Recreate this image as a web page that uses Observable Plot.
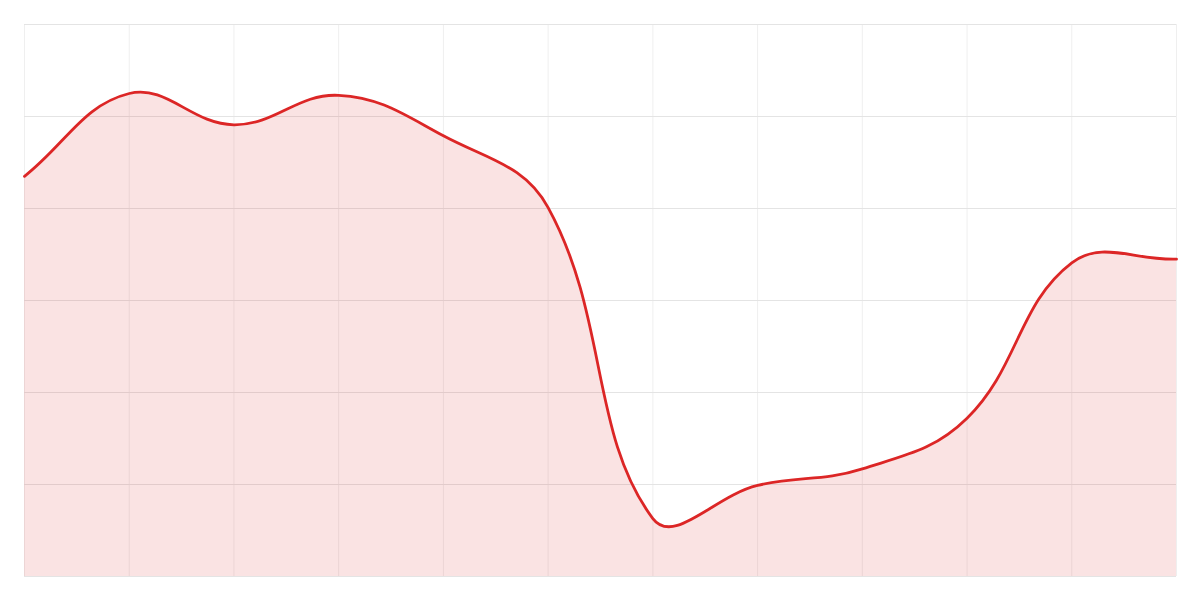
<!DOCTYPE html>
<html>
<head>
<meta charset="utf-8">
<script src="https://cdn.jsdelivr.net/npm/d3@7"></script>
<script src="https://cdn.jsdelivr.net/npm/@observablehq/plot@0.6"></script>
<style>
  html, body { margin: 0; padding: 0; background: #fff; }
  #chart { width: 1200px; height: 600px; }
</style>
</head>
<body>
<div id="chart"></div>
<script>
const positions = [0, 1, 2, 3, 4, 5, 6, 7, 8, 9, 10, 11];
const values = [43.5, 52.5, 49.1, 52.3, 47.9, 40.1, 6.3, 9.9, 11.7, 17.2, 34.1, 34.5];
const yTicks = [0, 10, 20, 30, 40, 50, 60];

const data = positions.map((x, i) => ({x, y: values[i]}));

// Distance-weighted spline (tension 0.4), passed to Plot as a d3-style curve factory
function splineCurve(tension) {
  return function(context) {
    let pts = [], line = NaN;
    return {
      areaStart() { line = 0; },
      areaEnd() { line = NaN; },
      lineStart() { pts = []; },
      lineEnd() {
        const n = pts.length;
        if (n) {
          if (line) context.lineTo(pts[0][0], pts[0][1]);
          else context.moveTo(pts[0][0], pts[0][1]);
          const cps = pts.map((p, i) => {
            const prev = pts[Math.max(0, i - 1)], next = pts[Math.min(n - 1, i + 1)];
            const d01 = Math.hypot(p[0] - prev[0], p[1] - prev[1]);
            const d12 = Math.hypot(next[0] - p[0], next[1] - p[1]);
            let s01 = d01 / (d01 + d12), s12 = d12 / (d01 + d12);
            if (!isFinite(s01)) s01 = 0;
            if (!isFinite(s12)) s12 = 0;
            const fa = tension * s01, fb = tension * s12;
            return {
              px: p[0] - fa * (next[0] - prev[0]), py: p[1] - fa * (next[1] - prev[1]),
              nx: p[0] + fb * (next[0] - prev[0]), ny: p[1] + fb * (next[1] - prev[1])
            };
          });
          for (let i = 1; i < n; i++) {
            context.bezierCurveTo(cps[i - 1].nx, cps[i - 1].ny, cps[i].px, cps[i].py, pts[i][0], pts[i][1]);
          }
        }
        if (line || (line !== 0 && n === 1)) context.closePath();
        line = 1 - line;
      },
      point(x, y) { pts.push([+x, +y]); }
    };
  };
}
const curve = splineCurve(0.4);

const chart = Plot.plot({
  width: 1200,
  height: 600,
  marginTop: 24,
  marginBottom: 24,
  marginLeft: 24,
  marginRight: 24,
  x: {domain: [0, 11], axis: null},
  y: {domain: [0, 60], axis: null},
  marks: [
    Plot.ruleX(positions, {stroke: "#efefef", strokeWidth: 1}),
    Plot.ruleY(yTicks, {stroke: "#e4e4e4", strokeWidth: 1}),
    Plot.areaY(data, {x: "x", y: "y", curve, fill: "#dc2626", fillOpacity: 0.13}),
    Plot.lineY(data, {x: "x", y: "y", curve, stroke: "#dc2626", strokeWidth: 2.8})
  ]
});
document.getElementById("chart").appendChild(chart);
</script>
</body>
</html>
